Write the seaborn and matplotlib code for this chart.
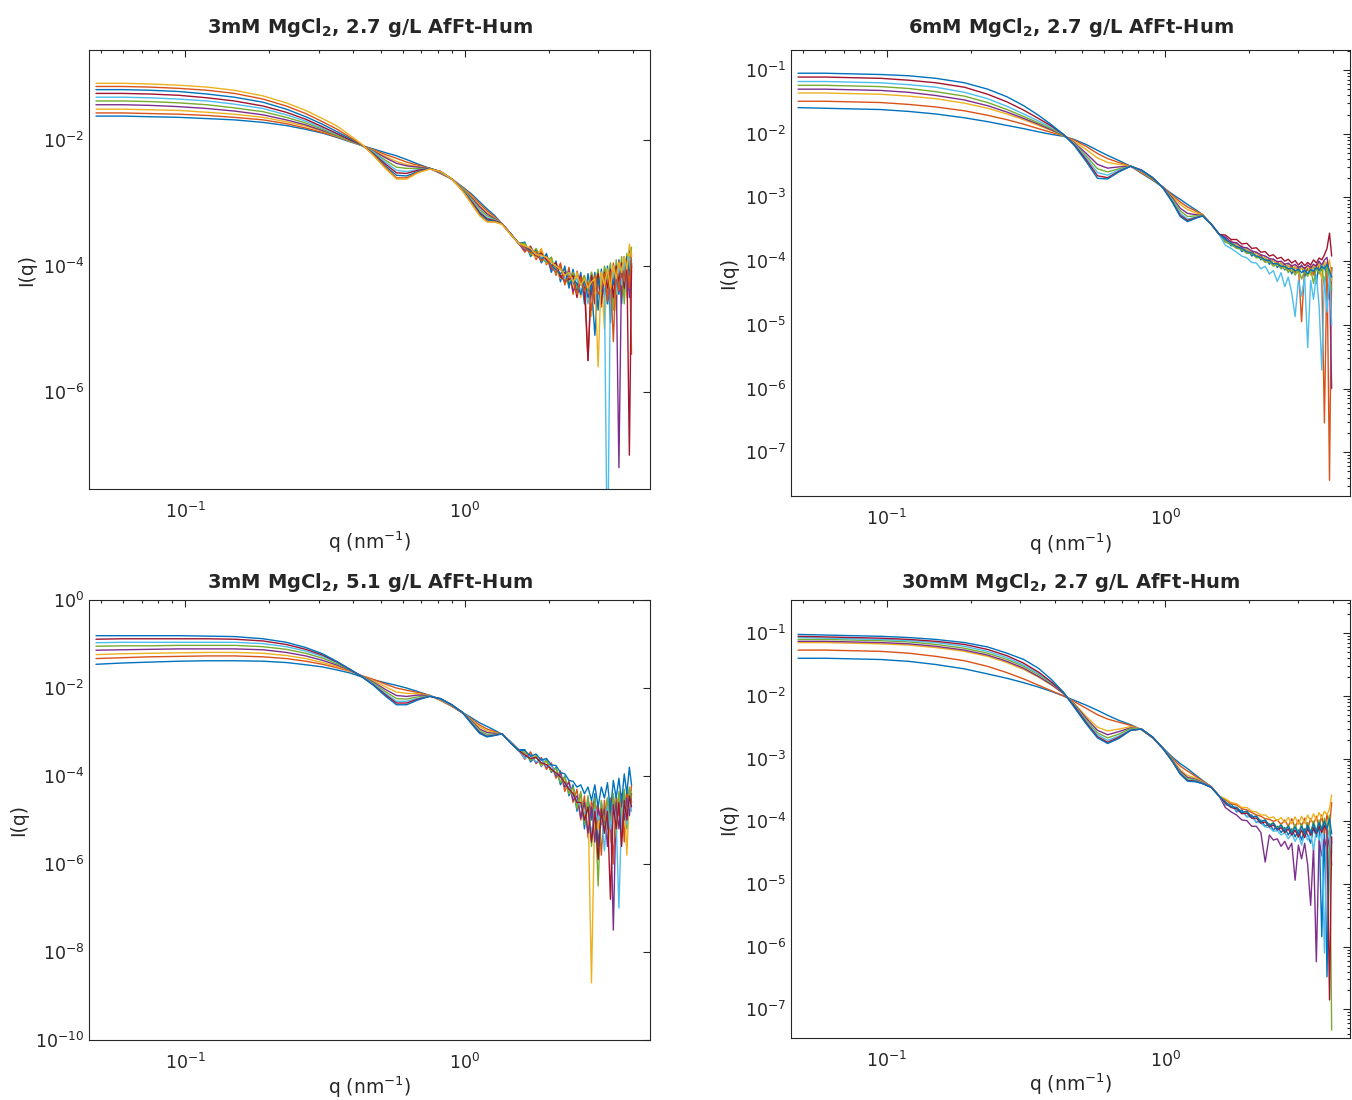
import numpy as np
import pandas as pd
import matplotlib
matplotlib.use("Agg")
import matplotlib.pyplot as plt
import seaborn as sns
from matplotlib.ticker import LogLocator, NullLocator, NullFormatter

# q grid (nm^-1): smooth part and the noisy high-q tail
Q_SMOOTH = [0.048, 0.06, 0.075, 0.095, 0.12, 0.15, 0.19, 0.23, 0.27, 0.31, 0.35, 0.39, 0.43, 0.47,
            0.52, 0.57, 0.62, 0.68, 0.75, 0.82, 0.90, 0.98, 1.06, 1.13, 1.20, 1.28, 1.36, 1.46, 1.56]
Q_TAIL = [1.64, 1.72, 1.80, 1.88, 1.96, 2.04, 2.12, 2.20, 2.28, 2.36, 2.44, 2.52, 2.60, 2.68, 2.76,
          2.84, 2.92, 3.00, 3.08, 3.16, 3.24, 3.32, 3.40, 3.48, 3.56, 3.64, 3.72, 3.80, 3.88, 3.95]

# log10 I(q). one row per curve, lowest plateau first
TL_SMOOTH = [
    [-1.62, -1.62, -1.63, -1.64, -1.66, -1.68, -1.72, -1.77, -1.83, -1.89, -1.96, -2.03, -2.09, -2.14, -2.20, -2.25, -2.31, -2.38, -2.45, -2.53, -2.62, -2.74, -2.86, -2.98, -3.09, -3.20, -3.33, -3.49, -3.64],
    [-1.57, -1.57, -1.58, -1.59, -1.61, -1.64, -1.68, -1.74, -1.81, -1.88, -1.95, -2.02, -2.09, -2.15, -2.23, -2.29, -2.35, -2.40, -2.45, -2.53, -2.62, -2.75, -2.88, -3.01, -3.12, -3.22, -3.33, -3.49, -3.64],
    [-1.51, -1.51, -1.52, -1.53, -1.56, -1.59, -1.64, -1.71, -1.78, -1.86, -1.94, -2.02, -2.09, -2.16, -2.26, -2.34, -2.39, -2.42, -2.45, -2.52, -2.62, -2.76, -2.90, -3.04, -3.15, -3.24, -3.33, -3.49, -3.64],
    [-1.44, -1.44, -1.45, -1.47, -1.50, -1.54, -1.60, -1.68, -1.76, -1.85, -1.93, -2.01, -2.09, -2.17, -2.28, -2.37, -2.41, -2.43, -2.45, -2.52, -2.62, -2.77, -2.92, -3.06, -3.17, -3.25, -3.33, -3.49, -3.64],
    [-1.38, -1.38, -1.39, -1.41, -1.44, -1.49, -1.55, -1.64, -1.73, -1.83, -1.93, -2.01, -2.09, -2.18, -2.32, -2.43, -2.45, -2.45, -2.45, -2.51, -2.62, -2.77, -2.94, -3.10, -3.20, -3.26, -3.33, -3.49, -3.64],
    [-1.32, -1.32, -1.33, -1.35, -1.38, -1.43, -1.50, -1.60, -1.70, -1.81, -1.91, -2.00, -2.09, -2.19, -2.35, -2.48, -2.50, -2.47, -2.45, -2.51, -2.62, -2.78, -2.96, -3.13, -3.23, -3.27, -3.33, -3.49, -3.64],
    [-1.26, -1.26, -1.27, -1.29, -1.33, -1.38, -1.46, -1.56, -1.67, -1.79, -1.90, -2.00, -2.08, -2.21, -2.38, -2.52, -2.53, -2.48, -2.45, -2.50, -2.62, -2.79, -2.98, -3.15, -3.25, -3.28, -3.33, -3.49, -3.64],
    [-1.20, -1.20, -1.21, -1.23, -1.27, -1.32, -1.40, -1.51, -1.63, -1.75, -1.87, -1.98, -2.08, -2.22, -2.41, -2.56, -2.57, -2.50, -2.45, -2.50, -2.62, -2.79, -3.00, -3.17, -3.27, -3.29, -3.33, -3.49, -3.64],
    [-1.15, -1.15, -1.16, -1.18, -1.21, -1.26, -1.35, -1.46, -1.58, -1.71, -1.83, -1.96, -2.08, -2.23, -2.43, -2.60, -2.60, -2.51, -2.46, -2.50, -2.62, -2.80, -3.01, -3.19, -3.29, -3.30, -3.33, -3.50, -3.64],
    [-1.10, -1.10, -1.11, -1.13, -1.16, -1.21, -1.30, -1.41, -1.53, -1.66, -1.78, -1.93, -2.07, -2.24, -2.45, -2.62, -2.62, -2.52, -2.46, -2.50, -2.62, -2.80, -3.02, -3.20, -3.30, -3.30, -3.34, -3.50, -3.64],
]
TL_TAIL = [
    [-3.62, -3.85, -3.74, -3.95, -3.80, -4.10, -3.92, -4.25, -4.00, -4.35, -4.05, -4.40, -4.10, -4.60, -4.12, -4.45, -4.10, -4.70, -4.05, -4.50, -4.00, -4.90, -3.98, -4.40, -3.90, -4.60, -3.85, -4.30, -3.75, -4.10],
    [-3.78, -3.68, -3.90, -3.76, -3.98, -3.86, -4.15, -3.95, -4.30, -4.02, -4.45, -4.08, -4.30, -4.15, -5.50, -4.10, -4.50, -4.12, -4.65, -4.05, -4.40, -4.60, -3.95, -4.30, -3.92, -4.50, -3.85, -4.20, -3.80, -5.40],
    [-3.66, -3.80, -3.86, -3.72, -3.96, -3.90, -4.05, -4.20, -4.05, -4.25, -4.35, -4.10, -4.50, -4.20, -4.30, -4.80, -4.15, -4.35, -4.10, -5.00, -4.05, -4.40, -4.00, -4.70, -3.95, -4.25, -3.90, -4.50, -3.80, -4.00],
    [-3.75, -3.70, -3.82, -3.90, -3.84, -4.05, -4.00, -4.15, -4.25, -4.08, -4.40, -4.30, -4.15, -4.50, -4.35, -4.20, -4.60, -4.15, -4.45, -4.25, -4.10, -4.60, -4.20, -4.05, -7.20, -3.95, -4.40, -3.90, -4.50, -4.00],
    [-3.64, -3.82, -3.72, -3.88, -3.94, -3.86, -4.12, -4.02, -4.18, -4.30, -4.10, -4.35, -4.25, -4.15, -4.40, -4.10, -4.30, -4.05, -4.55, -4.00, -4.20, -3.95, -4.70, -3.90, -4.30, -3.85, -4.60, -3.80, -4.10, -3.70],
    [-3.72, -3.76, -3.78, -3.86, -3.92, -3.98, -4.08, -4.05, -4.20, -4.12, -4.28, -4.20, -4.40, -4.30, -4.60, -4.25, -4.35, -4.50, -4.15, -4.40, -9.00, -4.20, -4.10, -4.45, -3.98, -4.30, -3.92, -4.40, -3.85, -3.95],
    [-3.70, -3.74, -3.84, -3.80, -3.90, -4.00, -3.95, -4.18, -4.10, -4.22, -4.15, -4.50, -4.18, -4.35, -5.50, -4.15, -4.40, -4.12, -4.60, -4.10, -4.35, -4.05, -4.50, -4.00, -4.25, -3.95, -4.35, -3.88, -7.00, -3.95],
    [-3.69, -3.77, -3.81, -3.89, -3.83, -3.99, -4.06, -4.12, -4.04, -4.30, -4.20, -4.28, -4.45, -4.22, -4.50, -4.30, -5.10, -4.20, -4.40, -4.15, -4.60, -4.12, -4.30, -4.05, -4.45, -4.00, -4.20, -3.85, -4.15, -3.90],
    [-3.71, -3.79, -3.77, -3.92, -3.85, -4.02, -4.10, -3.98, -4.28, -4.15, -4.22, -4.45, -4.18, -4.40, -4.25, -4.70, -4.15, -4.45, -4.35, -4.12, -4.55, -4.10, -5.20, -4.05, -4.40, -4.00, -4.25, -3.92, -4.35, -3.80],
    [-3.68, -3.72, -3.82, -3.83, -3.86, -3.94, -4.00, -4.05, -4.15, -4.10, -4.25, -4.15, -4.30, -4.20, -4.35, -4.25, -4.20, -5.60, -4.10, -4.30, -4.05, -4.35, -4.00, -4.20, -3.95, -4.10, -3.85, -4.05, -3.65, -3.85],
]

TR_SMOOTH = [
    [-1.59, -1.60, -1.61, -1.62, -1.65, -1.69, -1.75, -1.81, -1.87, -1.92, -1.97, -2.01, -2.04, -2.09, -2.17, -2.26, -2.34, -2.42, -2.51, -2.62, -2.73, -2.84, -2.95, -3.03, -3.11, -3.19, -3.27, -3.42, -3.58],
    [-1.49, -1.49, -1.50, -1.51, -1.54, -1.58, -1.64, -1.71, -1.78, -1.85, -1.92, -1.98, -2.03, -2.10, -2.20, -2.31, -2.39, -2.45, -2.51, -2.61, -2.72, -2.84, -2.97, -3.07, -3.15, -3.21, -3.27, -3.42, -3.58],
    [-1.36, -1.36, -1.37, -1.38, -1.41, -1.45, -1.52, -1.60, -1.69, -1.78, -1.87, -1.95, -2.03, -2.12, -2.25, -2.38, -2.45, -2.48, -2.51, -2.60, -2.71, -2.84, -2.99, -3.11, -3.19, -3.24, -3.27, -3.42, -3.58],
    [-1.30, -1.30, -1.31, -1.32, -1.35, -1.40, -1.47, -1.56, -1.66, -1.76, -1.85, -1.94, -2.02, -2.14, -2.31, -2.48, -2.54, -2.52, -2.51, -2.59, -2.70, -2.84, -3.01, -3.17, -3.25, -3.27, -3.28, -3.42, -3.58],
    [-1.24, -1.24, -1.25, -1.26, -1.29, -1.34, -1.41, -1.51, -1.62, -1.73, -1.83, -1.92, -2.02, -2.15, -2.35, -2.55, -2.60, -2.55, -2.51, -2.58, -2.70, -2.85, -3.03, -3.21, -3.30, -3.29, -3.28, -3.42, -3.58],
    [-1.18, -1.18, -1.19, -1.20, -1.23, -1.27, -1.35, -1.45, -1.57, -1.69, -1.80, -1.90, -2.01, -2.16, -2.38, -2.61, -2.65, -2.57, -2.51, -2.58, -2.69, -2.85, -3.05, -3.25, -3.34, -3.31, -3.29, -3.42, -3.58],
    [-1.11, -1.11, -1.12, -1.13, -1.16, -1.20, -1.27, -1.38, -1.50, -1.63, -1.76, -1.88, -2.01, -2.17, -2.41, -2.66, -2.69, -2.59, -2.51, -2.57, -2.69, -2.85, -3.07, -3.28, -3.36, -3.32, -3.29, -3.42, -3.58],
    [-1.05, -1.05, -1.06, -1.07, -1.09, -1.13, -1.20, -1.30, -1.42, -1.56, -1.71, -1.86, -2.01, -2.18, -2.44, -2.70, -2.71, -2.60, -2.51, -2.57, -2.69, -2.85, -3.08, -3.30, -3.38, -3.33, -3.29, -3.42, -3.58],
]
TR_TAIL = [
    [-3.64, -3.76, -3.72, -3.85, -3.80, -3.92, -3.86, -3.98, -3.93, -4.05, -3.97, -4.10, -4.02, -4.14, -4.05, -4.20, -4.08, -4.18, -4.06, -4.25, -4.10, -4.20, -4.05, -4.35, -4.02, -4.15, -4.00, -4.40, -4.60, -4.10],
    [-3.69, -3.68, -3.79, -3.76, -3.86, -3.83, -3.94, -3.90, -4.00, -3.96, -4.05, -4.00, -4.10, -4.04, -4.14, -4.06, -4.18, -4.08, -4.95, -4.10, -4.15, -4.08, -4.22, -4.05, -4.12, -4.25, -6.54, -4.02, -7.44, -4.10],
    [-3.67, -3.73, -3.74, -3.82, -3.81, -3.89, -3.88, -3.96, -3.94, -4.02, -3.99, -4.07, -4.02, -4.12, -4.06, -4.16, -4.08, -4.20, -4.10, -4.15, -4.08, -4.22, -4.06, -4.12, -4.03, -4.28, -4.00, -4.15, -3.98, -4.30],
    [-3.62, -3.70, -3.71, -3.78, -3.79, -3.84, -3.86, -3.90, -3.92, -3.96, -3.97, -4.01, -4.00, -4.05, -4.03, -4.08, -4.05, -4.10, -4.07, -4.12, -4.06, -4.10, -4.05, -4.08, -4.00, -4.06, -3.98, -3.94, -4.25, -6.00],
    [-3.70, -3.74, -3.80, -3.81, -3.88, -3.87, -3.95, -3.94, -4.02, -4.00, -4.08, -4.04, -4.12, -4.08, -4.18, -4.10, -4.22, -4.13, -4.28, -4.15, -4.24, -4.12, -4.35, -4.10, -4.20, -4.08, -4.40, -4.05, -4.28, -4.45],
    [-3.75, -3.80, -3.86, -3.92, -3.95, -4.02, -4.03, -4.12, -4.08, -4.20, -4.15, -4.32, -4.18, -4.40, -4.25, -4.50, -4.87, -4.30, -4.55, -4.25, -5.36, -4.30, -4.60, -4.22, -4.70, -5.71, -4.25, -4.80, -4.20, -5.00],
    [-3.59, -3.66, -3.66, -3.73, -3.72, -3.80, -3.79, -3.86, -3.85, -3.92, -3.90, -3.96, -3.94, -4.00, -3.97, -4.03, -3.99, -4.06, -4.01, -4.07, -4.02, -4.06, -3.98, -4.03, -3.95, -3.98, -3.90, -3.80, -3.56, -3.92],
    [-3.66, -3.72, -3.77, -3.80, -3.85, -3.87, -3.92, -3.94, -3.98, -3.99, -4.04, -4.04, -4.08, -4.08, -4.12, -4.11, -4.15, -4.13, -4.18, -4.14, -4.20, -4.13, -4.16, -4.10, -4.14, -4.08, -4.12, -4.05, -4.15, -4.25],
]

BL_SMOOTH = [
    [-1.46, -1.43, -1.41, -1.39, -1.38, -1.38, -1.39, -1.42, -1.47, -1.52, -1.59, -1.66, -1.75, -1.81, -1.88, -1.94, -2.00, -2.08, -2.17, -2.28, -2.41, -2.55, -2.68, -2.79, -2.87, -2.96, -3.05, -3.22, -3.40],
    [-1.33, -1.31, -1.29, -1.28, -1.27, -1.27, -1.29, -1.33, -1.39, -1.46, -1.54, -1.62, -1.72, -1.80, -1.91, -2.00, -2.05, -2.10, -2.17, -2.28, -2.42, -2.56, -2.71, -2.84, -2.93, -2.99, -3.05, -3.23, -3.41],
    [-1.24, -1.22, -1.21, -1.20, -1.19, -1.19, -1.21, -1.26, -1.33, -1.42, -1.51, -1.61, -1.73, -1.83, -1.97, -2.09, -2.12, -2.13, -2.17, -2.27, -2.41, -2.56, -2.73, -2.88, -2.97, -3.01, -3.05, -3.23, -3.41],
    [-1.14, -1.13, -1.12, -1.11, -1.11, -1.11, -1.13, -1.19, -1.27, -1.37, -1.48, -1.60, -1.73, -1.86, -2.03, -2.17, -2.19, -2.16, -2.17, -2.26, -2.40, -2.56, -2.75, -2.93, -3.01, -3.03, -3.04, -3.24, -3.41],
    [-1.05, -1.04, -1.04, -1.03, -1.03, -1.03, -1.06, -1.12, -1.21, -1.32, -1.45, -1.59, -1.74, -1.88, -2.08, -2.24, -2.25, -2.20, -2.18, -2.25, -2.39, -2.55, -2.77, -2.96, -3.05, -3.05, -3.04, -3.24, -3.42],
    [-0.97, -0.96, -0.96, -0.96, -0.96, -0.96, -0.99, -1.06, -1.16, -1.28, -1.42, -1.58, -1.74, -1.90, -2.12, -2.30, -2.30, -2.23, -2.18, -2.25, -2.39, -2.55, -2.79, -2.99, -3.08, -3.06, -3.04, -3.24, -3.42],
    [-0.89, -0.88, -0.88, -0.88, -0.88, -0.89, -0.93, -1.01, -1.12, -1.25, -1.41, -1.58, -1.75, -1.92, -2.15, -2.34, -2.34, -2.25, -2.19, -2.24, -2.38, -2.55, -2.81, -3.01, -3.10, -3.07, -3.04, -3.25, -3.42],
    [-0.81, -0.81, -0.81, -0.81, -0.82, -0.83, -0.88, -0.96, -1.08, -1.22, -1.40, -1.58, -1.75, -1.93, -2.18, -2.38, -2.38, -2.27, -2.19, -2.24, -2.38, -2.55, -2.82, -3.03, -3.11, -3.08, -3.04, -3.25, -3.42],
]
BL_TAIL = [
    [-3.40, -3.68, -3.55, -3.78, -3.62, -3.92, -3.80, -4.20, -4.00, -4.45, -4.20, -4.80, -4.40, -5.20, -4.50, -5.00, -4.40, -5.60, -4.60, -5.10, -4.50, -5.40, -4.45, -5.00, -4.40, -5.30, -4.35, -4.90, -4.30, -4.60],
    [-3.62, -3.45, -3.72, -3.58, -3.85, -3.70, -4.05, -3.88, -4.35, -4.10, -4.60, -4.30, -5.00, -4.45, -5.40, -4.55, -4.90, -4.60, -5.80, -4.55, -5.20, -4.50, -6.00, -4.45, -4.90, -4.40, -5.50, -4.30, -4.80, -4.20],
    [-3.45, -3.62, -3.52, -3.76, -3.66, -3.88, -3.84, -4.12, -4.05, -4.40, -4.30, -4.65, -4.50, -4.90, -4.60, -8.70, -4.60, -5.20, -4.70, -5.00, -4.60, -5.50, -4.55, -5.10, -4.50, -4.90, -4.45, -5.80, -4.40, -4.60],
    [-3.58, -3.50, -3.70, -3.60, -3.80, -3.74, -4.00, -3.95, -4.25, -4.15, -4.55, -4.45, -4.95, -4.60, -5.30, -4.70, -5.50, -4.70, -5.10, -4.75, -5.60, -4.65, -7.50, -4.60, -5.20, -4.55, -5.00, -4.50, -4.90, -4.40],
    [-3.48, -3.64, -3.56, -3.74, -3.64, -3.90, -3.82, -4.15, -4.02, -4.40, -4.25, -4.75, -4.35, -5.10, -4.45, -5.60, -4.50, -6.50, -4.55, -5.30, -4.50, -5.10, -4.40, -5.40, -4.35, -5.00, -4.30, -5.20, -4.25, -4.50],
    [-3.60, -3.52, -3.68, -3.62, -3.78, -3.76, -3.96, -4.00, -4.18, -4.25, -4.45, -4.55, -4.70, -4.85, -4.80, -5.30, -4.75, -5.00, -4.85, -5.70, -4.70, -5.20, -4.65, -5.00, -7.00, -4.80, -4.55, -5.10, -4.50, -4.80],
    [-3.52, -3.60, -3.58, -3.70, -3.74, -3.84, -3.93, -4.02, -4.15, -4.30, -4.40, -4.60, -4.60, -5.00, -4.70, -5.50, -4.80, -5.90, -4.75, -5.30, -4.80, -6.80, -4.65, -5.20, -4.60, -5.60, -4.55, -5.00, -4.45, -4.70],
    [-3.42, -3.55, -3.50, -3.64, -3.60, -3.75, -3.76, -3.92, -3.95, -4.10, -4.12, -4.25, -4.20, -4.40, -4.25, -4.55, -4.20, -4.70, -4.25, -4.50, -4.15, -4.80, -4.10, -4.50, -4.05, -4.60, -3.95, -4.40, -3.80, -4.20],
]

BR_SMOOTH = [
    [-1.40, -1.40, -1.41, -1.42, -1.45, -1.50, -1.57, -1.65, -1.72, -1.79, -1.86, -1.93, -2.00, -2.07, -2.15, -2.23, -2.31, -2.39, -2.46, -2.54, -2.67, -2.83, -2.98, -3.08, -3.16, -3.26, -3.35, -3.45, -3.60],
    [-1.27, -1.27, -1.28, -1.29, -1.32, -1.37, -1.44, -1.53, -1.63, -1.73, -1.83, -1.92, -2.00, -2.09, -2.20, -2.30, -2.37, -2.42, -2.47, -2.54, -2.67, -2.84, -3.00, -3.12, -3.20, -3.28, -3.36, -3.45, -3.60],
    [-1.15, -1.15, -1.16, -1.17, -1.19, -1.23, -1.29, -1.37, -1.47, -1.58, -1.70, -1.83, -1.96, -2.12, -2.33, -2.50, -2.56, -2.53, -2.49, -2.53, -2.66, -2.84, -3.02, -3.18, -3.27, -3.31, -3.37, -3.45, -3.60],
    [-1.13, -1.13, -1.14, -1.15, -1.17, -1.21, -1.27, -1.35, -1.45, -1.56, -1.69, -1.82, -1.96, -2.13, -2.36, -2.55, -2.62, -2.57, -2.51, -2.53, -2.66, -2.84, -3.03, -3.20, -3.30, -3.33, -3.38, -3.45, -3.60],
    [-1.10, -1.10, -1.11, -1.12, -1.14, -1.18, -1.24, -1.32, -1.42, -1.53, -1.66, -1.80, -1.95, -2.14, -2.39, -2.59, -2.67, -2.61, -2.52, -2.53, -2.66, -2.84, -3.03, -3.22, -3.32, -3.34, -3.39, -3.46, -3.60],
    [-1.07, -1.08, -1.09, -1.10, -1.12, -1.15, -1.21, -1.29, -1.39, -1.51, -1.64, -1.79, -1.95, -2.15, -2.41, -2.62, -2.71, -2.64, -2.54, -2.53, -2.66, -2.84, -3.04, -3.23, -3.34, -3.35, -3.39, -3.46, -3.60],
    [-1.05, -1.06, -1.07, -1.08, -1.10, -1.13, -1.18, -1.26, -1.36, -1.48, -1.62, -1.78, -1.95, -2.16, -2.43, -2.65, -2.74, -2.66, -2.55, -2.53, -2.66, -2.84, -3.05, -3.24, -3.35, -3.36, -3.40, -3.46, -3.60],
    [-1.02, -1.03, -1.04, -1.05, -1.07, -1.10, -1.15, -1.22, -1.32, -1.42, -1.56, -1.74, -1.94, -2.18, -2.45, -2.67, -2.76, -2.68, -2.55, -2.53, -2.66, -2.84, -3.05, -3.25, -3.36, -3.37, -3.40, -3.46, -3.60],
]
BR_TAIL = [
    [-3.74, -3.72, -3.85, -3.82, -3.93, -3.90, -4.02, -3.98, -4.08, -4.04, -4.14, -4.08, -4.18, -4.10, -4.22, -4.12, -4.25, -4.14, -4.30, -4.12, -4.22, -4.35, -4.10, -4.25, -4.05, -5.84, -4.08, -6.48, -4.10, -4.35],
    [-3.66, -3.72, -3.74, -3.80, -3.82, -3.86, -3.90, -3.92, -3.96, -3.97, -4.00, -3.98, -4.05, -3.98, -4.08, -3.96, -4.10, -3.98, -4.08, -3.95, -4.12, -3.96, -4.05, -3.92, -4.10, -3.90, -4.20, -3.88, -4.10, -3.70],
    [-3.64, -3.70, -3.72, -3.78, -3.78, -3.84, -3.85, -3.90, -3.90, -3.95, -3.93, -3.99, -3.94, -4.02, -3.94, -4.04, -3.93, -4.05, -3.92, -4.03, -3.90, -4.00, -3.88, -3.98, -3.86, -3.95, -3.84, -3.90, -3.80, -3.58],
    [-3.78, -3.85, -3.90, -3.98, -3.99, -4.08, -4.08, -4.18, -4.65, -4.22, -4.30, -4.28, -4.40, -4.32, -4.45, -4.35, -4.94, -4.38, -4.60, -4.35, -4.70, -5.34, -4.40, -6.24, -4.30, -4.55, -4.28, -4.45, -4.25, -4.70],
    [-3.70, -3.77, -3.78, -3.86, -3.85, -3.93, -3.92, -4.00, -3.98, -4.06, -4.02, -4.11, -4.05, -4.15, -4.06, -4.18, -4.05, -4.20, -4.04, -4.22, -4.02, -4.18, -4.00, -4.16, -3.98, -4.12, -3.95, -4.10, -3.90, -7.33],
    [-3.73, -3.76, -3.83, -3.85, -3.92, -3.94, -4.01, -4.03, -4.09, -4.10, -4.16, -4.15, -4.22, -4.18, -4.28, -4.20, -4.32, -4.22, -4.38, -4.20, -4.30, -4.18, -4.45, -4.15, -4.30, -4.12, -6.10, -4.10, -4.25, -4.50],
    [-3.71, -3.78, -3.80, -3.88, -3.87, -3.95, -3.95, -4.03, -4.01, -4.09, -4.06, -4.14, -4.10, -4.18, -4.12, -4.22, -4.14, -4.25, -4.14, -4.26, -4.12, -4.22, -4.10, -4.20, -4.08, -4.18, -4.06, -4.15, -6.85, -4.25],
    [-3.69, -3.77, -3.78, -3.86, -3.84, -3.93, -3.92, -4.01, -3.98, -4.07, -4.03, -4.13, -4.06, -4.16, -4.08, -4.19, -4.09, -4.21, -4.08, -4.20, -4.06, -4.19, -4.04, -4.17, -4.02, -4.14, -4.00, -4.12, -3.96, -4.20],
]

TITLES = [r"3mM MgCl$_\mathbf{2}$, 2.7 g/L AfFt-Hum", r"6mM MgCl$_\mathbf{2}$, 2.7 g/L AfFt-Hum",
          r"3mM MgCl$_\mathbf{2}$, 5.1 g/L AfFt-Hum", r"30mM MgCl$_\mathbf{2}$, 2.7 g/L AfFt-Hum"]

# matlab default line colours
MATLAB_COLORS = ["#0072BD", "#D95319", "#EDB120", "#7E2F8E", "#77AC30", "#4DBEEE", "#A2142F"]


def make_frame(smooth, tail):
    q = Q_SMOOTH + Q_TAIL
    rows = []
    for i, (s, t) in enumerate(zip(smooth, tail)):
        for qq, li in zip(q, s + t):
            rows.append((f"c{i}", qq, 10.0 ** li))
    return pd.DataFrame(rows, columns=["curve", "q", "I"])


sns.set_style("white")
plt.rcParams["font.family"] = ["DejaVu Sans"]
plt.rcParams["mathtext.fontset"] = "dejavusans"

fig = plt.figure(figsize=(13.52, 11), dpi=100)

panels = [
    # smooth, tail, axes rect, ylim, yticks, minor y, title pad, xlabel pad
    (TL_SMOOTH, TL_TAIL, [0.0658, 0.5555, 0.415, 0.399], (2.9e-8, 0.268), [1e-6, 1e-4, 1e-2], False, 12, 6),
    (TR_SMOOTH, TR_TAIL, [0.5851, 0.5490, 0.4135, 0.4055], (2.05e-8, 0.206),
     [1e-7, 1e-6, 1e-5, 1e-4, 1e-3, 1e-2, 1e-1], True, 12, 2),
    (BL_SMOOTH, BL_TAIL, [0.0658, 0.0545, 0.415, 0.400], (1e-10, 1.0),
     [1e-10, 1e-8, 1e-6, 1e-4, 1e-2, 1e0], False, 9, 1),
    (BR_SMOOTH, BR_TAIL, [0.5851, 0.0564, 0.4135, 0.398], (3.5e-8, 0.336),
     [1e-7, 1e-6, 1e-5, 1e-4, 1e-3, 1e-2, 1e-1], True, 9, 1),
]

for k, (smooth, tail, rect, ylim, yticks, minor_y, tpad, xpad) in enumerate(panels):
    ax = fig.add_axes(rect)
    df = make_frame(smooth, tail)
    names = [f"c{i}" for i in range(len(smooth))]
    pal = [MATLAB_COLORS[i % 7] for i in range(len(smooth))]
    sns.lineplot(data=df, x="q", y="I", hue="curve", hue_order=names, palette=pal,
                 estimator=None, linewidth=1.0, legend=False, ax=ax)
    ax.set_xscale("log")
    ax.set_yscale("log")
    ax.set_xlim(0.0453, 4.6)
    ax.set_ylim(*ylim)
    ax.set_xticks([0.1, 1.0])
    ax.xaxis.set_minor_locator(LogLocator(base=10, subs=np.arange(2, 10)))
    ax.xaxis.set_minor_formatter(NullFormatter())
    ax.set_yticks(yticks)
    if minor_y:
        ax.yaxis.set_minor_locator(LogLocator(base=10, subs=np.arange(2, 10), numticks=20))
    else:
        ax.yaxis.set_minor_locator(NullLocator())
    ax.yaxis.set_minor_formatter(NullFormatter())
    ax.tick_params(which="both", direction="in", top=True, right=True, colors="#262626",
                   labelsize=12.5, width=0.8)
    ax.tick_params(which="major", length=5)
    ax.tick_params(which="minor", length=2.5)
    ax.tick_params(axis="x", which="major", pad=9)
    for sp in ax.spines.values():
        sp.set_color("#262626")
        sp.set_linewidth(0.8)
    ax.set_xlabel(r"q (nm$^{-1}$)", fontsize=13.5, color="#262626", labelpad=xpad)
    ax.set_ylabel("I(q)", fontsize=13.5, color="#262626", labelpad=5)
    ax.set_title(TITLES[k], fontsize=14, fontweight="bold", pad=tpad)

fig.savefig("out.png", dpi=100)
